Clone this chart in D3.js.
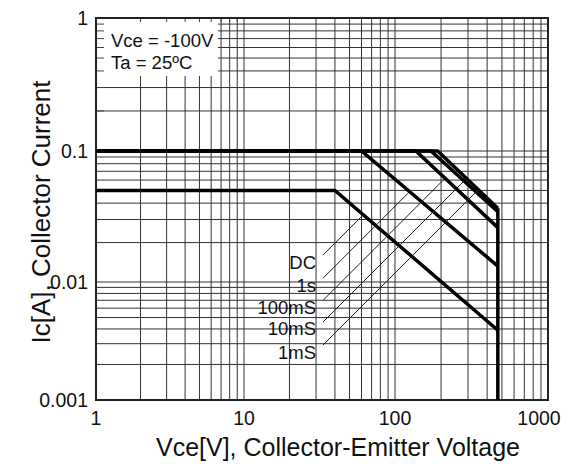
<!DOCTYPE html>
<html>
<head>
<meta charset="utf-8">
<title>Safe Operating Area</title>
<script src="https://d3js.org/d3.v7.min.js"></script>
<style>
  body { margin: 0; background: #fff; }
  text { font-family: "Liberation Sans", Arial, sans-serif; fill: #111; }
</style>
</head>
<body>
<svg id="soa" width="570" height="472"></svg>
<script>
// ---- data ----
var curveNames = ["DC", "1s", "100mS", "10mS", "1mS"];
var breakV = [40, 60, 137, 172, 190];          // V where the flat part ends
var flatI = [0.05, 0.1, 0.1, 0.1, 0.1];         // A, flat current limit
var endI = [0.0039, 0.0132, 0.026, 0.0344, 0.0366]; // A at the voltage limit
var vMax = 470;                                  // V, vertical limit line
var labelV = 30;                                 // where the labels sit
var labelI = [0.0142, 0.0094, 0.0061, 0.0040, 0.00255];
var xTickLabels = ["1", "10", "100", "1000"];
var yTickLabels = ["0.001", "0.01", "0.1", "1"];
var xDecades = [1, 10, 100, 1000];
var yDecades = [0.001, 0.01, 0.1, 1];

var svg = d3.select("#soa");

// the drawing in the sheet is a little uneven, so each decade gets its own span
var x = d3.scaleLog().domain(xDecades).range([96, 244, 395, 548]);
var y = d3.scaleLog().domain(yDecades).range([400, 282, 151, 18]);

var pLeft = x(1), pRight = x(1000), pTop = y(1), pBottom = y(0.001);

// grid
var xGrid = [], yGrid = [];
for (var d = 0; d < 3; d++) {
  for (var k = 1; k <= 9; k++) {
    xGrid.push(k * xDecades[d]);
    yGrid.push(k * yDecades[d]);
  }
}
var grid = svg.append("g");
grid.selectAll(".gx").data(xGrid).enter().append("line")
  .attr("x1", function(v) { return x(v); }).attr("x2", function(v) { return x(v); })
  .attr("y1", pTop).attr("y2", pBottom)
  .attr("stroke", "#333").attr("stroke-width", 1);
grid.selectAll(".gy").data(yGrid).enter().append("line")
  .attr("y1", function(v) { return y(v); }).attr("y2", function(v) { return y(v); })
  .attr("x1", pLeft).attr("x2", pRight)
  .attr("stroke", "#333").attr("stroke-width", 1);

// condition box (hides the grid)
svg.append("rect")
  .attr("x", pLeft).attr("y", pTop)
  .attr("width", 122).attr("height", 58)
  .attr("fill", "#fff");
// small ticks that stay visible inside the box
svg.selectAll(".tl").data(yGrid.filter(function(v) { return v > 0.1; })).enter().append("line")
  .attr("x1", pLeft).attr("x2", pLeft + 8)
  .attr("y1", function(v) { return y(v); }).attr("y2", function(v) { return y(v); })
  .attr("stroke", "#444");
svg.selectAll(".tt").data(xGrid.filter(function(v) { return v < 10; })).enter().append("line")
  .attr("x1", function(v) { return x(v); }).attr("x2", function(v) { return x(v); })
  .attr("y1", pTop).attr("y2", pTop + 4)
  .attr("stroke", "#444");
svg.append("text").attr("x", pLeft + 15).attr("y", pTop + 29)
  .attr("font-size", 18.5).text("Vce = -100V");
svg.append("text").attr("x", pLeft + 15).attr("y", pTop + 51)
  .attr("font-size", 18.5).text("Ta = 25ºC");

// frame
svg.append("rect")
  .attr("x", pLeft).attr("y", pTop)
  .attr("width", pRight - pLeft).attr("height", pBottom - pTop)
  .attr("fill", "none").attr("stroke", "#222").attr("stroke-width", 2);

// SOA curves
var line = d3.line().x(function(p) { return x(p[0]); }).y(function(p) { return y(p[1]); });
var curves = curveNames.map(function(n, i) {
  return [[1, flatI[i]], [breakV[i], flatI[i]], [vMax, endI[i]]];
});
svg.selectAll(".curve").data(curves).enter().append("path")
  .attr("d", line)
  .attr("fill", "none").attr("stroke", "#000").attr("stroke-width", 3.5)
  .attr("stroke-linejoin", "miter");
svg.append("path")
  .attr("d", line([[vMax, 0.001], [vMax, d3.max(endI)]]))
  .attr("fill", "none").attr("stroke", "#000").attr("stroke-width", 3.5);

// labels and leader lines (45 degree, running up to their own curve)
curveNames.forEach(function(n, i) {
  var lx = x(labelV), ly = y(labelI[i]);
  svg.append("text").attr("x", lx).attr("y", ly).attr("dy", "0.35em")
    .attr("text-anchor", "end").attr("font-size", 18.5).text(n);
  var sx = lx + 7, sy = ly - 7;
  // sloped part of the curve in pixels
  var ax = x(breakV[i]), ay = y(flatI[i]), bx = x(vMax), by = y(endI[i]);
  var m = (by - ay) / (bx - ax);
  // sy - (t - sx) = ay + m (t - ax)
  var t = (sy + sx - ay + m * ax) / (1 + m);
  var ty = sy - (t - sx);
  svg.append("line")
    .attr("x1", sx).attr("y1", sy).attr("x2", t).attr("y2", ty)
    .attr("stroke", "#222").attr("stroke-width", 1);
});

// tick labels
svg.selectAll(".xl").data(xDecades).enter().append("text")
  .attr("x", function(v, i) { return i == 3 ? x(v) - 9 : x(v); })
  .attr("y", pBottom + 25)
  .attr("text-anchor", "middle").attr("font-size", 19.5)
  .text(function(v, i) { return xTickLabels[i]; });
svg.selectAll(".yl").data(yDecades).enter().append("text")
  .attr("x", pLeft - 8)
  .attr("y", function(v) { return y(v); }).attr("dy", "0.35em")
  .attr("text-anchor", "end").attr("font-size", 19.5)
  .text(function(v, i) { return yTickLabels[i]; });

// axis titles
svg.append("text").attr("x", 338).attr("y", 456)
  .attr("text-anchor", "middle").attr("font-size", 25)
  .text("Vce[V], Collector-Emitter Voltage");
svg.append("text")
  .attr("transform", "translate(50," + 212 + ") rotate(-90)")
  .attr("text-anchor", "middle").attr("font-size", 26)
  .text("Ic[A], Collector Current");
</script>
</body>
</html>
